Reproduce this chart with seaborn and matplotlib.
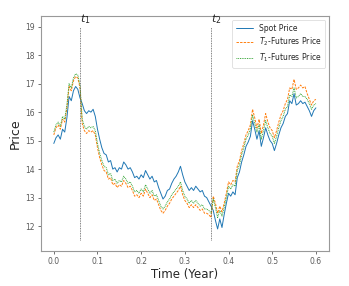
import numpy as np
import pandas as pd
import matplotlib
matplotlib.use("Agg")
import matplotlib.pyplot as plt
import seaborn as sns

step = 0.005
n_points = 121
time = np.round(np.arange(n_points) * step, 3)

spot = [
    14.90, 15.10, 15.20, 15.05, 15.40, 15.30, 15.80, 16.55, 16.40, 16.75,
    16.90, 16.80, 16.50, 16.30, 16.05, 15.95, 16.05, 16.00, 16.10, 15.85,
    15.40, 15.05, 14.75, 14.55, 14.50, 14.25, 14.30, 14.00, 14.05, 13.90,
    14.05, 14.00, 14.25, 14.15, 14.00, 14.05, 13.90, 13.70, 13.75, 13.65,
    13.80, 13.70, 13.95, 13.80, 13.65, 13.75, 13.55, 13.60, 13.35, 13.15,
    12.95, 13.05, 13.25, 13.30, 13.50, 13.65, 13.75, 13.90, 14.10, 13.80,
    13.55, 13.40, 13.25, 13.35, 13.25, 13.40, 13.30, 13.20, 13.25, 13.05,
    13.00, 12.85, 12.70, 12.55, 12.20, 11.90, 12.25, 11.95, 12.40, 12.80,
    13.15, 13.05, 13.20, 13.10, 13.70, 13.90, 14.25, 14.50, 14.80, 14.95,
    15.15, 15.70, 15.40, 15.05, 15.35, 14.80, 15.10, 15.45, 15.20, 15.00,
    14.90, 14.65, 14.90, 15.20, 15.45, 15.60, 15.85, 15.95, 16.40, 16.30,
    16.65, 16.25, 16.30, 16.40, 16.30, 16.35, 16.20, 16.05, 15.85, 16.05,
    16.15,
]

fut_t2 = [
    15.20, 15.45, 15.55, 15.40, 15.75, 15.65, 16.15, 16.90, 16.75, 17.10,
    17.25, 17.20, 16.85, 15.60, 15.35, 15.25, 15.35, 15.30, 15.35, 15.20,
    14.75, 14.40, 14.15, 13.95, 13.90, 13.65, 13.70, 13.45, 13.50, 13.35,
    13.45, 13.40, 13.60, 13.50, 13.35, 13.40, 13.25, 13.05, 13.10, 13.00,
    13.15, 13.05, 13.30, 13.15, 13.00, 13.10, 12.90, 12.95, 12.75, 12.55,
    12.45, 12.55, 12.70, 12.80, 12.95, 13.05, 13.15, 13.25, 13.40, 13.10,
    12.90, 12.80, 12.65, 12.75, 12.65, 12.75, 12.65, 12.55, 12.60, 12.45,
    12.45, 12.40, 12.30, 13.05, 12.80, 12.45, 12.70, 12.50, 12.80, 13.15,
    13.55, 13.45, 13.60, 13.55, 14.10, 14.30, 14.65, 14.90, 15.20, 15.35,
    15.55, 16.10, 15.80, 15.45, 15.75, 15.25, 15.55, 15.95, 15.65, 15.45,
    15.35, 15.10, 15.35, 15.65, 15.90, 16.05, 16.30, 16.45, 16.85, 16.80,
    17.15, 16.80, 16.85, 16.95, 16.85, 16.90, 16.65, 16.45, 16.25, 16.40,
    16.45,
]

fut_t1 = [
    15.30, 15.55, 15.65, 15.50, 15.85, 15.75, 16.25, 17.00, 16.85, 17.20,
    17.35, 17.30, 16.95, 15.75, 15.50, 15.40, 15.50, 15.45, 15.50, 15.35,
    14.90, 14.55, 14.30, 14.10, 14.05, 13.80, 13.85, 13.60, 13.65, 13.50,
    13.60, 13.55, 13.75, 13.65, 13.50, 13.55, 13.40, 13.20, 13.25, 13.15,
    13.30, 13.20, 13.45, 13.30, 13.15, 13.25, 13.05, 13.10, 12.90, 12.70,
    12.60, 12.70, 12.85, 12.95, 13.10, 13.20, 13.30, 13.40, 13.55, 13.25,
    13.05, 12.95, 12.80, 12.90, 12.80, 12.90, 12.80, 12.70, 12.75, 12.60,
    12.60, 12.55, 12.45, 12.95, 12.65, 12.30, 12.55, 12.35, 12.65, 13.00,
    13.40, 13.30, 13.45, 13.40, 13.95, 14.15, 14.50, 14.75, 15.05, 15.20,
    15.40, 15.90, 15.60, 15.30, 15.55, 15.05, 15.35, 15.70, 15.45, 15.25,
    15.15, 14.90, 15.15, 15.45, 15.70, 15.85, 16.10, 16.20, 16.60, 16.55,
    16.85, 16.50, 16.55, 16.65, 16.55, 16.55, 16.45, 16.30, 16.10, 16.25,
    16.30,
]

event_times = [0.06, 0.36]
event_labels = ["$t_1$", "$t_2$"]
series_labels = ["Spot Price", "$T_2$-Futures Price", "$T_1$-Futures Price"]

sns.set_style("ticks", {"axes.edgecolor": "0.6", "xtick.color": "0.35",
                        "ytick.color": "0.35"})
plt.rcParams["font.family"] = ["DejaVu Sans"]

fig = plt.figure(figsize=(3.49, 2.86), dpi=100)
ax = fig.add_axes([0.1166, 0.1224, 0.8261, 0.8216])

palette = sns.color_palette("tab10")
sns.lineplot(x=time, y=spot, ax=ax, color=palette[0], lw=0.7,
             label=series_labels[0])
sns.lineplot(x=time, y=fut_t2, ax=ax, color=palette[1], lw=0.7,
             linestyle=(0, (2.5, 1.2)), label=series_labels[1])
sns.lineplot(x=time, y=fut_t1, ax=ax, color=palette[2], lw=0.7,
             linestyle=(0, (0.9, 0.9)), label=series_labels[2])

ax.vlines(event_times, 11.5, 19, colors="0.35", linestyles=(0, (1, 1)), lw=0.6)
for t, lab in zip(event_times, event_labels):
    ax.text(t, 19.02, lab, fontsize=8, ha="left", va="bottom")

ax.set_xlim(-0.03, 0.63)
ax.set_ylim(11.125, 19.375)
ax.set_xticks([0.0, 0.1, 0.2, 0.3, 0.4, 0.5, 0.6])
ax.set_yticks([12, 13, 14, 15, 16, 17, 18, 19])
ax.tick_params(labelsize=5.5, length=2, width=0.6, pad=2)
for s in ax.spines.values():
    s.set_linewidth(0.8)
ax.set_xlabel("Time (Year)", fontsize=8.5, labelpad=2)
ax.set_ylabel("Price", fontsize=9, labelpad=3)

leg = ax.legend(loc="upper right", fontsize=5.5, frameon=True,
                handlelength=2.2, borderpad=0.5, labelspacing=0.4)
leg.get_frame().set_linewidth(0.5)
leg.get_frame().set_edgecolor("0.8")

fig.savefig("out.png", dpi=100)
